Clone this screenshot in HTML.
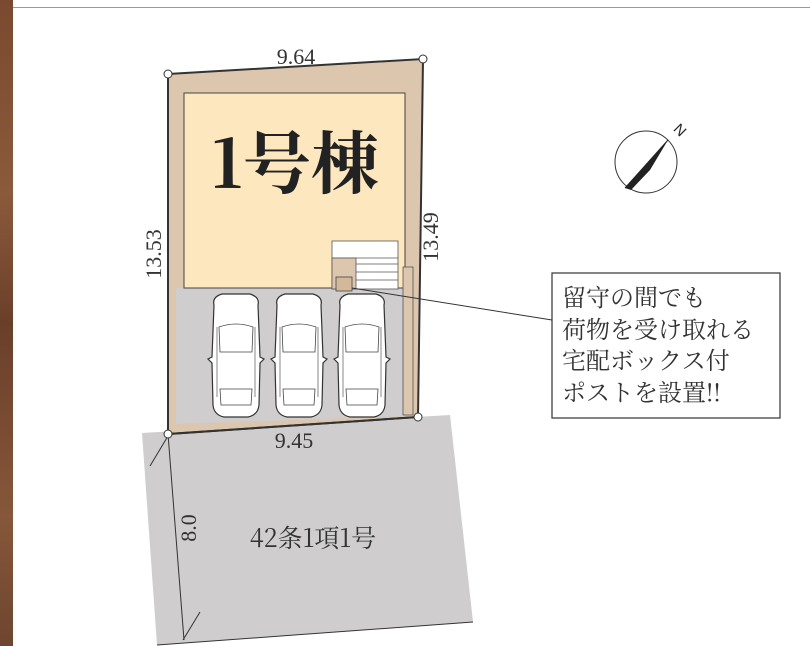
<!DOCTYPE html>
<html><head><meta charset="utf-8"><style>
html,body{margin:0;padding:0;background:#fff;}
body{width:810px;height:646px;overflow:hidden;position:relative;font-family:"Liberation Serif","Noto Serif CJK SC",serif;}
</style></head><body>
<svg width="810" height="646" viewBox="0 0 810 646" xmlns="http://www.w3.org/2000/svg" style="position:absolute;left:0;top:0">
<defs>
<linearGradient id="wood" x1="0" y1="0" x2="0" y2="1">
<stop offset="0" stop-color="#7a4a30"/><stop offset="0.3" stop-color="#8a5a3c"/><stop offset="0.5" stop-color="#6a3f2a"/><stop offset="0.8" stop-color="#86573a"/><stop offset="1" stop-color="#6e4530"/>
</linearGradient>
<g id="car">
<path d="M-22,8 Q-24,0 -14,-3 L14,-3 Q24,0 22,8 L24,60 L28,62 L24,66 L23,108 Q22,118 12,120 L-12,120 Q-22,118 -23,108 L-24,66 L-28,62 L-24,60 Z" fill="#fff" stroke="#333" stroke-width="1.2"/>
<path d="M-17,30 Q0,24 17,30 L16,55 L-16,55 Z" fill="none" stroke="#444" stroke-width="0.8"/>
<path d="M-16,92 L16,92 L15,108 L-15,108 Z" fill="none" stroke="#444" stroke-width="0.8"/>
<line x1="-19" y1="30" x2="-19" y2="100" stroke="#555" stroke-width="0.7"/>
<line x1="19" y1="30" x2="19" y2="100" stroke="#555" stroke-width="0.7"/>
</g>
</defs>
<rect x="0" y="0" width="13" height="646" fill="url(#wood)"/>
<line x1="13" y1="7.5" x2="810" y2="7.5" stroke="#999" stroke-width="1"/>
<!-- road -->
<polygon points="142,433 450,415 473,622 157,645" fill="#cfcdce"/>
<line x1="157" y1="645" x2="473" y2="622" stroke="#333" stroke-width="1"/>
<line x1="168" y1="434" x2="184" y2="640" stroke="#333" stroke-width="1"/>
<line x1="168" y1="436" x2="150" y2="466" stroke="#333" stroke-width="1"/>
<line x1="200" y1="612" x2="183" y2="640" stroke="#333" stroke-width="1"/>
<!-- lot -->
<polygon points="168,74 423,59 418,417 168,434" fill="#dcc6ae" stroke="#333" stroke-width="2"/>
<polygon points="176,424 412,416 412,288 176,288" fill="#cfcdce"/>
<rect x="184" y="93" width="221" height="195" fill="#fde7be" stroke="#444" stroke-width="1"/>
<rect x="332" y="241" width="66" height="48" fill="#fff" stroke="#555" stroke-width="0.8"/>
<line x1="332" y1="258" x2="398" y2="258" stroke="#555" stroke-width="0.8"/>
<line x1="356" y1="264" x2="398" y2="264" stroke="#555" stroke-width="0.8"/>
<line x1="356" y1="272" x2="398" y2="272" stroke="#555" stroke-width="0.8"/>
<line x1="356" y1="280" x2="398" y2="280" stroke="#555" stroke-width="0.8"/>
<rect x="332" y="258" width="24" height="31" fill="#dcc6ae" stroke="#555" stroke-width="0.8"/>
<rect x="336" y="277" width="16" height="14" fill="#d4b89a" stroke="#444" stroke-width="0.8"/>
<rect x="403" y="267" width="10" height="148" fill="#dcc6ae" stroke="#555" stroke-width="0.8"/>
<line x1="168" y1="434" x2="418" y2="417" stroke="#333" stroke-width="2"/>
<use href="#car" x="236" y="297"/>
<use href="#car" x="299" y="297"/>
<use href="#car" x="362" y="297"/>
<g fill="#fff" stroke="#333" stroke-width="1">
<circle cx="168" cy="74" r="4"/><circle cx="423" cy="59" r="4"/><circle cx="418" cy="417" r="4"/><circle cx="168" cy="434" r="4"/>
</g>
<!-- leader -->
<line x1="352" y1="288" x2="552" y2="320" stroke="#333" stroke-width="1"/>
<rect x="552" y="273" width="228" height="145" fill="#fff" stroke="#333" stroke-width="1.2"/>
<!-- compass -->
<circle cx="646" cy="162" r="31" fill="none" stroke="#333" stroke-width="1"/>
<polygon points="668,140 625,188 631,190 650,170" fill="#222"/>
<line x1="668" y1="140" x2="625" y2="188" stroke="#222" stroke-width="1"/>
<text x="680" y="135" font-size="15" font-family="Liberation Sans,sans-serif" fill="#222" transform="rotate(45 680 130)" text-anchor="middle">N</text>
<!-- text -->
<g fill="#333" font-family="Liberation Serif,'Noto Serif CJK SC',serif">
<text x="296" y="64" font-size="22" text-anchor="middle">9.64</text>
<text x="294" y="448" font-size="22" text-anchor="middle">9.45</text>
<text x="161" y="254" font-size="22" text-anchor="middle" transform="rotate(-90 161 254)">13.53</text>
<text x="438" y="237" font-size="22" text-anchor="middle" transform="rotate(-90 438 237)">13.49</text>
<text x="196" y="528" font-size="22" text-anchor="middle" transform="rotate(-90 196 528)">8.0</text>
<text x="313" y="547" font-size="25" text-anchor="middle" font-family="'Noto Serif CJK SC',serif">42条1項1号</text>
<text x="295" y="188" font-size="68" fill="#222" text-anchor="middle" font-weight="bold" font-family="'Noto Serif CJK SC',serif">1号棟</text>
<g font-size="24" font-family="'Noto Serif CJK SC',serif" fill="#333">
<text x="562" y="306">留守の間でも</text>
<text x="562" y="338">荷物を受け取れる</text>
<text x="562" y="369">宅配ボックス付</text>
<text x="562" y="401">ポストを設置!!</text>
</g>
</g>
</svg>
</body></html>
